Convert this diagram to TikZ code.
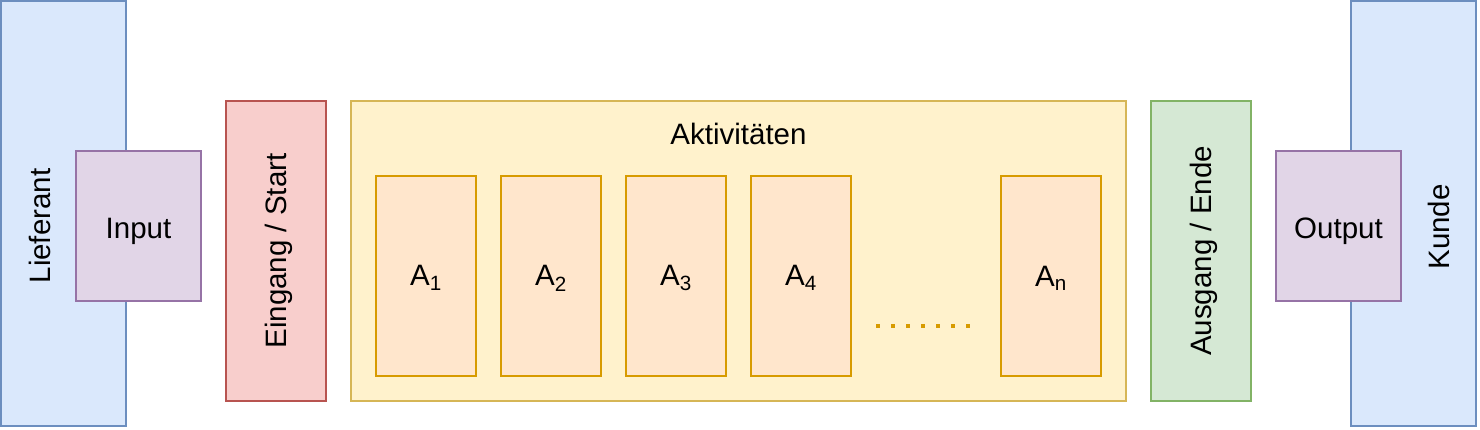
\documentclass[tikz,border=0pt]{standalone}
\usepackage{fontspec}
\setmainfont{Liberation Sans}
\definecolor{bluef}{HTML}{DAE8FC}\definecolor{blued}{HTML}{6C8EBF}
\definecolor{purf}{HTML}{E1D5E7}\definecolor{purd}{HTML}{9673A6}
\definecolor{redf}{HTML}{F8CECC}\definecolor{redd}{HTML}{B85450}
\definecolor{yelf}{HTML}{FFF2CC}\definecolor{yeld}{HTML}{D6B656}
\definecolor{orf}{HTML}{FFE6CC}\definecolor{ord}{HTML}{D79B00}
\definecolor{grf}{HTML}{D5E8D4}\definecolor{grd}{HTML}{82B366}
\newcommand{\lowered}[2]{\raisebox{-#1}[\height][\depth]{#2}}
\tikzset{
  box/.style={rectangle, inner sep=0pt, outer sep=0pt, line width=2.2pt, font=\fontsize{29.5}{34}\selectfont},
  party/.style={box, fill=bluef, draw=blued, minimum width=125pt, minimum height=425pt},
  io/.style={box, fill=purf, draw=purd, minimum width=125pt, minimum height=150pt},
  startbox/.style={box, fill=redf, draw=redd, minimum width=100pt, minimum height=300pt},
  endbox/.style={box, fill=grf, draw=grd, minimum width=100pt, minimum height=300pt},
  actframe/.style={box, fill=yelf, draw=yeld, minimum width=775pt, minimum height=300pt},
  act/.style={box, fill=orf, draw=ord, line width=2.4pt, minimum width=100pt, minimum height=200pt},
  txt/.style={inner sep=0pt, font=\fontsize{29.5}{34}\selectfont},
}
\begin{document}
\begin{tikzpicture}[x=1pt,y=-1pt]
\useasboundingbox (0,0) rectangle (1480,430);
% left side
\node[party] (lief) at (63.5,213.5) {};
\node[txt, rotate=90] (lieft) at (40,226) {Lieferant};
\node[io] (inp) at (138.5,226) {\lowered{5pt}{Input}};
% start
\node[startbox] (start) at (276,251) {\rotatebox{90}{\lowered{3pt}{Eingang / Start}}};
% activities frame
\node[actframe] (akt) at (738.5,251) {};
\node[txt] (aktt) at (738.5,134) {Aktivitäten};
\node[act] (a1) at (426,276) {\lowered{2pt}{A\textsubscript{1}}};
\node[act] (a2) at (551,276) {\lowered{2pt}{A\textsubscript{2}}};
\node[act] (a3) at (676,276) {\lowered{2pt}{A\textsubscript{3}}};
\node[act] (a4) at (801,276) {\lowered{2pt}{A\textsubscript{4}}};
\node[act] (an) at (1051,276) {\lowered{2pt}{A\textsubscript{n}}};
\coordinate (d1) at (876,326);
\coordinate (d2) at (974,326);
\draw[ord, line width=4pt, dash pattern=on 4pt off 11pt] (d1) -- (d2);
% end
\node[endbox] (ende) at (1201,251) {\rotatebox{90}{\lowered{3pt}{Ausgang / Ende}}};
% right side
\node[party] (kunde) at (1413.5,213.5) {};
\node[txt, rotate=90] (kundet) at (1438.5,227) {Kunde};
\node[io] (outp) at (1338.5,226) {\lowered{5pt}{Output}};
\end{tikzpicture}
\end{document}
